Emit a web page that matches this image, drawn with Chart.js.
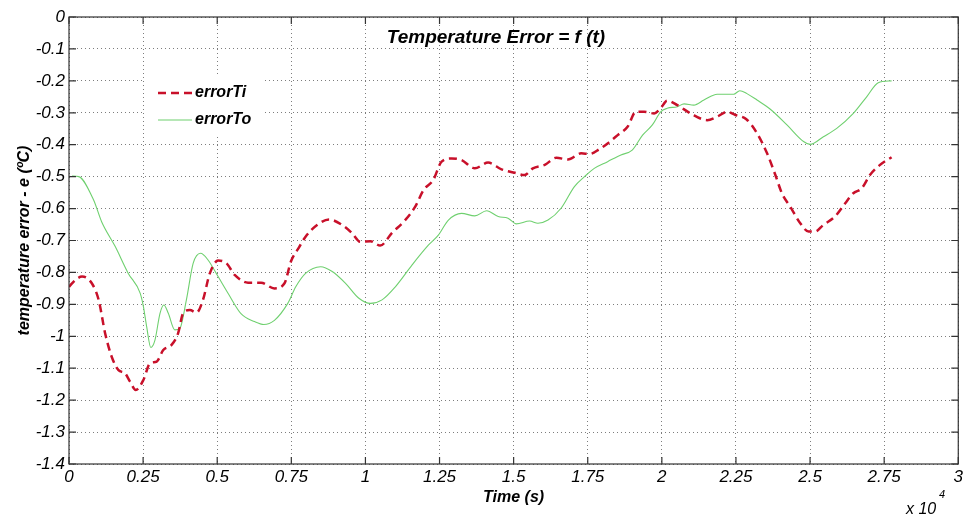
<!DOCTYPE html>
<html>
<head>
<meta charset="utf-8">
<script src="https://cdn.jsdelivr.net/npm/chart.js@4/dist/chart.umd.min.js"></script>
<style>
  html, body { margin: 0; padding: 0; background: #fff; }
  #wrap { width: 966px; height: 514px; }
</style>
</head>
<body>
<div id="wrap"><canvas id="errChart"></canvas></div>
<script>
// time in units of 10^4 s
const tiTime = [0, 0.021, 0.044, 0.077, 0.1, 0.122, 0.144, 0.167, 0.189, 0.206,
  0.225, 0.251, 0.273, 0.296, 0.318, 0.346, 0.368, 0.385, 0.408, 0.43,
  0.452, 0.475, 0.503, 0.531, 0.559, 0.604, 0.648, 0.693, 0.727, 0.749,
  0.777, 0.798, 0.838, 0.877, 0.921, 0.955, 0.983, 1.017, 1.05, 1.089,
  1.134, 1.168, 1.196, 1.229, 1.257, 1.291, 1.324, 1.369, 1.414, 1.459,
  1.504, 1.537, 1.565, 1.605, 1.644, 1.683, 1.728, 1.756, 1.789, 1.817,
  1.851, 1.885, 1.912, 1.94, 1.974, 1.996, 2.018, 2.052, 2.097, 2.153,
  2.187, 2.22, 2.248, 2.285, 2.321, 2.355, 2.383, 2.405, 2.433, 2.467,
  2.495, 2.517, 2.545, 2.584, 2.618, 2.646, 2.674, 2.702, 2.735, 2.775];
const errorTi = [-0.845, -0.824, -0.813, -0.834, -0.886, -0.991, -1.064, -1.106, -1.116, -1.142,
  -1.168, -1.137, -1.085, -1.079, -1.043, -1.027, -0.991, -0.928, -0.918, -0.926,
  -0.886, -0.803, -0.763, -0.771, -0.808, -0.832, -0.832, -0.85, -0.834, -0.765,
  -0.72, -0.688, -0.651, -0.634, -0.651, -0.677, -0.704, -0.702, -0.716, -0.677,
  -0.636, -0.594, -0.542, -0.51, -0.453, -0.443, -0.448, -0.474, -0.456, -0.477,
  -0.488, -0.495, -0.474, -0.463, -0.441, -0.446, -0.427, -0.429, -0.414, -0.396,
  -0.37, -0.343, -0.297, -0.297, -0.302, -0.286, -0.262, -0.276, -0.302, -0.323,
  -0.312, -0.297, -0.307, -0.32, -0.364, -0.427, -0.495, -0.552, -0.594, -0.646,
  -0.672, -0.672, -0.651, -0.625, -0.584, -0.552, -0.537, -0.495, -0.464, -0.439];

const toTime = [0.01, 0.033, 0.083, 0.11, 0.156, 0.2, 0.24, 0.251, 0.262, 0.276,
  0.29, 0.307, 0.32, 0.335, 0.357, 0.374, 0.396, 0.419, 0.444, 0.469,
  0.503, 0.537, 0.581, 0.626, 0.657, 0.693, 0.738, 0.765, 0.798, 0.849,
  0.888, 0.933, 0.978, 1.017, 1.056, 1.101, 1.157, 1.213, 1.246, 1.28,
  1.324, 1.369, 1.409, 1.448, 1.481, 1.509, 1.554, 1.582, 1.616, 1.66,
  1.705, 1.739, 1.772, 1.817, 1.862, 1.9, 1.935, 1.968, 1.996, 2.018,
  2.052, 2.075, 2.108, 2.142, 2.187, 2.22, 2.242, 2.263, 2.287, 2.321,
  2.366, 2.422, 2.478, 2.5, 2.545, 2.59, 2.646, 2.691, 2.73, 2.775];
const errorTo = [-0.498, -0.5, -0.573, -0.641, -0.719, -0.803, -0.865, -0.907, -0.97, -1.035,
  -1.012, -0.928, -0.902, -0.928, -0.98, -0.975, -0.886, -0.771, -0.74, -0.761,
  -0.813, -0.866, -0.93, -0.954, -0.963, -0.95, -0.897, -0.845, -0.803, -0.782,
  -0.797, -0.834, -0.881, -0.897, -0.886, -0.845, -0.777, -0.714, -0.683, -0.636,
  -0.615, -0.623, -0.607, -0.625, -0.63, -0.648, -0.639, -0.646, -0.636, -0.599,
  -0.531, -0.5, -0.474, -0.453, -0.432, -0.417, -0.37, -0.338, -0.297, -0.286,
  -0.281, -0.272, -0.276, -0.26, -0.242, -0.242, -0.242, -0.231, -0.24, -0.26,
  -0.289, -0.338, -0.39, -0.399, -0.375, -0.349, -0.302, -0.25, -0.206, -0.2];

const chartTitle = "Temperature Error = f (t)";
const xTitle = "Time (s)";
const yTitle = "temperature error - e (\u00BAC)";

const FONT = "'Liberation Sans', Arial, sans-serif";
const RED = "#c8102a";
const GREEN = "#6fd06f";

const toPts = (xs, ys) => xs.map((x, i) => ({ x: x, y: ys[i] }));

// box, inward ticks, title, legend, multiplier
const matlabLook = {
  id: 'matlabLook',
  beforeDatasetsDraw(chart) {
    const { ctx } = chart;
    // legend background hides grid
    ctx.save();
    ctx.fillStyle = '#fff';
    ctx.fillRect(144, 75, 119, 60);
    ctx.restore();
  },
  afterDraw(chart) {
    const { ctx, chartArea: a, scales } = chart;
    ctx.save();
    ctx.strokeStyle = '#333';
    ctx.lineWidth = 1.2;
    ctx.strokeRect(a.left, a.top, a.right - a.left, a.bottom - a.top);
    const tl = 7;
    ctx.beginPath();
    scales.x.ticks.forEach(t => {
      const px = scales.x.getPixelForValue(t.value);
      ctx.moveTo(px, a.bottom); ctx.lineTo(px, a.bottom - tl);
      ctx.moveTo(px, a.top); ctx.lineTo(px, a.top + tl);
    });
    scales.y.ticks.forEach(t => {
      const py = scales.y.getPixelForValue(t.value);
      ctx.moveTo(a.left, py); ctx.lineTo(a.left + tl, py);
      ctx.moveTo(a.right, py); ctx.lineTo(a.right - tl, py);
    });
    ctx.stroke();

    // title inside the axes
    ctx.fillStyle = '#000';
    ctx.font = "italic bold 19px " + FONT;
    ctx.textAlign = 'center';
    ctx.textBaseline = 'middle';
    ctx.fillText(chartTitle, 496, 38);

    // legend
    const items = chart.data.datasets;
    const rows = [93, 120];
    ctx.font = "italic bold 16px " + FONT;
    ctx.textAlign = 'left';
    items.forEach((ds, i) => {
      ctx.save();
      ctx.strokeStyle = ds.borderColor;
      ctx.lineWidth = ds.borderWidth;
      ctx.setLineDash(ds.borderDash || []);
      ctx.beginPath();
      ctx.moveTo(158, rows[i]);
      ctx.lineTo(192, rows[i]);
      ctx.stroke();
      ctx.restore();
      ctx.fillText(ds.label, 195, rows[i]);
    });

    // x 10^4
    ctx.font = "italic 16px " + FONT;
    ctx.textBaseline = 'alphabetic';
    ctx.fillText("x 10", 906, 514);
    ctx.font = "italic 11px " + FONT;
    ctx.fillText("4", 939, 498);
    ctx.restore();
  }
};

const gridOpts = { color: 'rgba(70,70,70,0.7)', lineWidth: 1, drawTicks: false };
const fmt = v => String(Number(v.toFixed(2)));

new Chart(document.getElementById('errChart'), {
  type: 'line',
  data: {
    datasets: [{
      label: 'errorTi',
      data: toPts(tiTime, errorTi),
      borderColor: RED,
      borderWidth: 2.5,
      borderDash: [8, 5],
      pointRadius: 0,
      cubicInterpolationMode: 'monotone',
      fill: false
    }, {
      label: 'errorTo',
      data: toPts(toTime, errorTo),
      borderColor: GREEN,
      borderWidth: 1.1,
      pointRadius: 0,
      cubicInterpolationMode: 'monotone',
      fill: false
    }]
  },
  options: {
    responsive: true,
    maintainAspectRatio: false,
    animation: false,
    layout: { padding: { left: 0, right: 4, top: 17, bottom: 0 } },
    plugins: {
      legend: { display: false },
      title: { display: false },
      tooltip: { enabled: false }
    },
    scales: {
      x: {
        type: 'linear',
        min: 0, max: 3,
        grid: gridOpts,
        border: { display: false, dash: [1, 3] },
        afterFit: s => { s.height = 50; },
        ticks: {
          stepSize: 0.25,
          padding: 3,
          color: '#000',
          font: { family: FONT, size: 17, style: 'italic' },
          callback: fmt
        },
        title: {
          display: true,
          text: xTitle,
          color: '#000',
          padding: { top: 0, bottom: 7 },
          font: { family: FONT, size: 16, style: 'italic', weight: 'bold' }
        }
      },
      y: {
        min: -1.4, max: 0,
        grid: gridOpts,
        border: { display: false, dash: [1, 3] },
        afterFit: s => { s.width = 69; },
        ticks: {
          stepSize: 0.1,
          padding: 4,
          color: '#000',
          font: { family: FONT, size: 17, style: 'italic' },
          callback: fmt
        },
        title: {
          display: true,
          text: yTitle,
          color: '#000',
          padding: { top: 15, bottom: 0 },
          font: { family: FONT, size: 16, style: 'italic', weight: 'bold' }
        }
      }
    }
  },
  plugins: [matlabLook]
});
</script>
</body>
</html>
